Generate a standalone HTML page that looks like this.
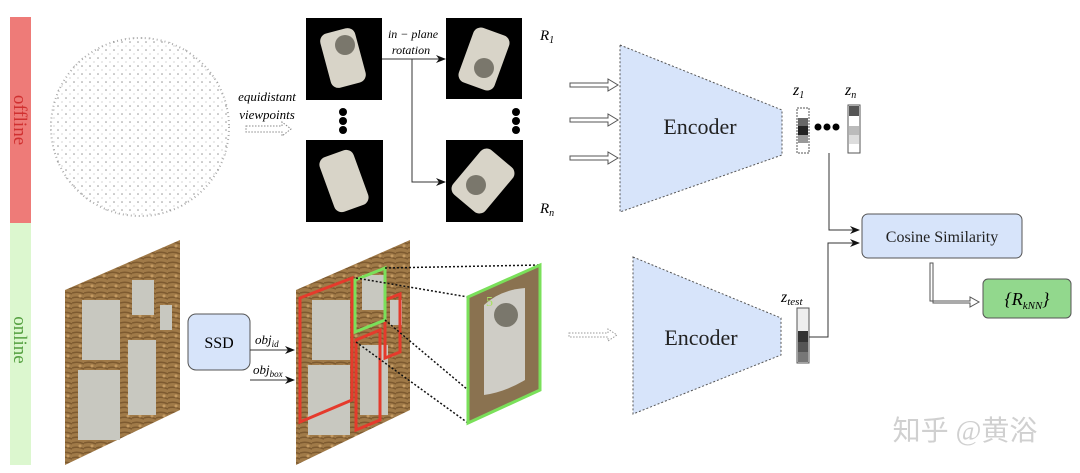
<!DOCTYPE html>
<html><head><meta charset="utf-8"><style>
html,body{margin:0;padding:0;background:#fff;width:1080px;height:473px;overflow:hidden}
svg{display:block}
text{font-family:"Liberation Serif",serif}
</style></head><body>
<svg width="1080" height="473" viewBox="0 0 1080 473" xmlns="http://www.w3.org/2000/svg">
<defs>
<marker id="ah" markerWidth="10" markerHeight="8" refX="9" refY="4" orient="auto" markerUnits="userSpaceOnUse"><path d="M0,0 L10,4 L0,8 L3,4z" fill="#111"/></marker>
<pattern id="dots" width="8" height="8" patternUnits="userSpaceOnUse"><circle cx="2" cy="2" r="0.8" fill="#666"/><circle cx="6" cy="6" r="0.6" fill="#999"/></pattern>
<pattern id="wood" width="12" height="10" patternUnits="userSpaceOnUse"><rect width="12" height="10" fill="#a07a48"/><path d="M0,3 Q6,1 12,4 M0,8 Q5,6 12,9" stroke="#7d5a30" stroke-width="1.5" fill="none"/><circle cx="8" cy="6" r="1.5" fill="#c49a62"/></pattern>
</defs>
<rect x="10" y="17" width="21" height="206" fill="#ee7b78"/>
<rect x="10" y="223" width="21" height="242" fill="#dcf7cf"/>
<text transform="translate(14,120) rotate(90)" font-size="19" fill="#d03030" text-anchor="middle">offline</text>
<text transform="translate(14,340) rotate(90)" font-size="19" fill="#55a040" text-anchor="middle">online</text>
<circle cx="140" cy="127" r="90" fill="url(#dots)" opacity="0.7"/>
<circle cx="140" cy="127" r="89" fill="none" stroke="#888" stroke-width="2" stroke-dasharray="1,3" opacity="0.7"/>
<text x="267" y="101" font-size="13" font-style="italic" text-anchor="middle">equidistant</text>
<text x="267" y="119" font-size="13" font-style="italic" text-anchor="middle">viewpoints</text>
<path d="M246,126 H282 V122 L291,129 L282,136 V132 H246Z" fill="none" stroke="#888" stroke-dasharray="1.5,1.5"/>
<rect x="306" y="18" width="76" height="82" fill="#000"/>
<rect x="306" y="140" width="77" height="82" fill="#000"/>
<rect x="446" y="18" width="76" height="81" fill="#000"/>
<rect x="446" y="140" width="77" height="82" fill="#000"/>
<g fill="#d8d4c8"><rect x="325" y="30" width="36" height="56" rx="8" transform="rotate(-15 343 58)"/><rect x="326" y="152" width="36" height="58" rx="8" transform="rotate(-20 344 181)"/><rect x="465" y="30" width="38" height="58" rx="8" transform="rotate(20 484 59)"/><rect x="462" y="152" width="42" height="58" rx="8" transform="rotate(40 483 181)"/></g>
<g fill="#7a776c"><circle cx="345" cy="45" r="10"/><circle cx="484" cy="68" r="10"/><circle cx="476" cy="185" r="10"/></g>
<g fill="#000"><circle cx="343" cy="112" r="4"/><circle cx="343" cy="121" r="4"/><circle cx="343" cy="130" r="4"/><circle cx="516" cy="112" r="4"/><circle cx="516" cy="121" r="4"/><circle cx="516" cy="130" r="4"/></g>
<text x="413" y="38" font-size="12" font-style="italic" text-anchor="middle">in − plane</text>
<text x="411" y="54" font-size="12" font-style="italic" text-anchor="middle">rotation</text>
<path d="M382,59 H445" stroke="#333" fill="none" marker-end="url(#ah)"/>
<path d="M412,59 V182 H445" stroke="#333" fill="none" marker-end="url(#ah)"/>
<text x="540" y="40" font-size="15" font-style="italic">R<tspan font-size="10" dy="3">1</tspan></text>
<text x="540" y="213" font-size="15" font-style="italic">R<tspan font-size="10" dy="3">n</tspan></text>
<g fill="#fff" stroke="#555"><path d="M570,83 H608 V79 L618,85 L608,91 V87 H570Z"/><path d="M570,118 H608 V114 L618,120 L608,126 V122 H570Z"/><path d="M570,156 H608 V152 L618,158 L608,164 V160 H570Z"/></g>
<polygon points="620,45 782,110 782,155 620,212" fill="#d7e4fa" stroke="#555" stroke-dasharray="2,2"/>
<text x="700" y="134" font-size="22" text-anchor="middle" fill="#222">Encoder</text>
<polygon points="633,257 781,318 781,355 633,414" fill="#d7e4fa" stroke="#555" stroke-dasharray="2,2"/>
<text x="701" y="345" font-size="22" text-anchor="middle" fill="#222">Encoder</text>
<path d="M569,333 H608 V329 L617,335 L608,341 V337 H569Z" fill="none" stroke="#999" stroke-dasharray="1.5,1.5"/>
<text x="793" y="95" font-size="16" font-style="italic">z<tspan font-size="10" dy="3">1</tspan></text>
<rect x="797" y="108" width="12" height="45" fill="#fff" stroke="#555" stroke-dasharray="2,1"/>
<rect x="798" y="118" width="10" height="8" fill="#666"/><rect x="798" y="126" width="10" height="9" fill="#222"/><rect x="798" y="135" width="10" height="8" fill="#999"/>
<g fill="#000"><circle cx="818" cy="127" r="3.5"/><circle cx="827" cy="127" r="3.5"/><circle cx="836" cy="127" r="3.5"/></g>
<text x="845" y="95" font-size="16" font-style="italic">z<tspan font-size="10" dy="3">n</tspan></text>
<rect x="848" y="105" width="12" height="48" fill="#fff" stroke="#555"/>
<rect x="849" y="106" width="10" height="10" fill="#555"/><rect x="849" y="126" width="10" height="9" fill="#bbb"/><rect x="849" y="135" width="10" height="9" fill="#ddd"/>
<text x="781" y="302" font-size="16" font-style="italic">z<tspan font-size="11" dy="3">test</tspan></text>
<rect x="797" y="308" width="12" height="55" fill="#eee" stroke="#555"/>
<rect x="798" y="331" width="10" height="11" fill="#333"/><rect x="798" y="342" width="10" height="10" fill="#555"/><rect x="798" y="352" width="10" height="10" fill="#777"/>
<path d="M829,153 V230 H859" stroke="#333" fill="none" marker-end="url(#ah)"/>
<path d="M809,337 H828 V243 H859" stroke="#333" fill="none" marker-end="url(#ah)"/>
<rect x="862" y="214" width="160" height="44" rx="6" fill="#d7e4fa" stroke="#555"/>
<text x="942" y="242" font-size="16" text-anchor="middle" fill="#222">Cosine Similarity</text>
<path d="M930,263 V301 H970 V297 L979,302 L970,307 V303 H933 V263Z" fill="#fff" stroke="#555"/>
<rect x="983" y="279" width="88" height="39" rx="5" fill="#92d88d" stroke="#555"/>
<text x="1027" y="305" font-size="18" text-anchor="middle" font-style="italic">{R<tspan font-size="11" dy="4">kNN</tspan><tspan dy="-4">}</tspan></text>
<polygon points="65,290 180,240 180,410 65,465" fill="url(#wood)"/>
<g fill="#c8c8c0"><rect x="82" y="300" width="38" height="60"/><rect x="78" y="370" width="42" height="70"/><rect x="128" y="340" width="28" height="75"/><rect x="132" y="280" width="22" height="35"/><rect x="160" y="305" width="12" height="25"/></g>
<rect x="188" y="314" width="62" height="56" rx="8" fill="#d7e4fa" stroke="#555"/>
<text x="219" y="348" font-size="16" text-anchor="middle">SSD</text>
<text x="255" y="344" font-size="13" font-style="italic">obj<tspan font-size="9" dy="3">id</tspan></text>
<text x="253" y="374" font-size="13" font-style="italic">obj<tspan font-size="9" dy="3">box</tspan></text>
<path d="M250,350 H294" stroke="#333" marker-end="url(#ah)"/>
<path d="M250,380 H294" stroke="#333" marker-end="url(#ah)"/>
<polygon points="296,290 410,240 410,410 296,465" fill="url(#wood)"/>
<g fill="#c8c8c0"><rect x="312" y="300" width="38" height="60"/><rect x="308" y="365" width="42" height="70"/><rect x="360" y="345" width="28" height="70"/><rect x="362" y="275" width="22" height="35"/><rect x="390" y="300" width="12" height="25"/></g>
<g fill="none" stroke="#e53a2c" stroke-width="3"><polygon points="300,298 352,278 352,400 300,422"/><polygon points="356,340 380,330 380,420 356,430"/><polygon points="385,300 400,294 400,352 385,358"/></g>
<polygon points="355,280 385,268 385,320 355,332" fill="none" stroke="#7ae05a" stroke-width="3"/>
<g stroke="#111" stroke-width="1.5" stroke-dasharray="2,2" fill="none"><path d="M385,268 L540,265"/><path d="M356,278 L468,297"/><path d="M385,320 L468,390"/><path d="M356,342 L468,423"/></g>
<polygon points="468,297 540,265 540,390 468,423" fill="#8a7250" stroke="#7ae05a" stroke-width="3"/>
<path d="M484,305 Q500,290 525,288 L525,380 Q505,392 484,395 Z" fill="#cfcdc6"/>
<circle cx="506" cy="315" r="12" fill="#7a776c"/>
<text x="486" y="306" font-size="14" fill="#a8e060" font-family="Liberation Sans">5</text>
<text x="965" y="440" font-size="28" fill="#d0d0d0" text-anchor="middle" font-family="'Liberation Sans','Noto Sans CJK SC',sans-serif">知乎 @黄浴</text>
</svg>
</body></html>
